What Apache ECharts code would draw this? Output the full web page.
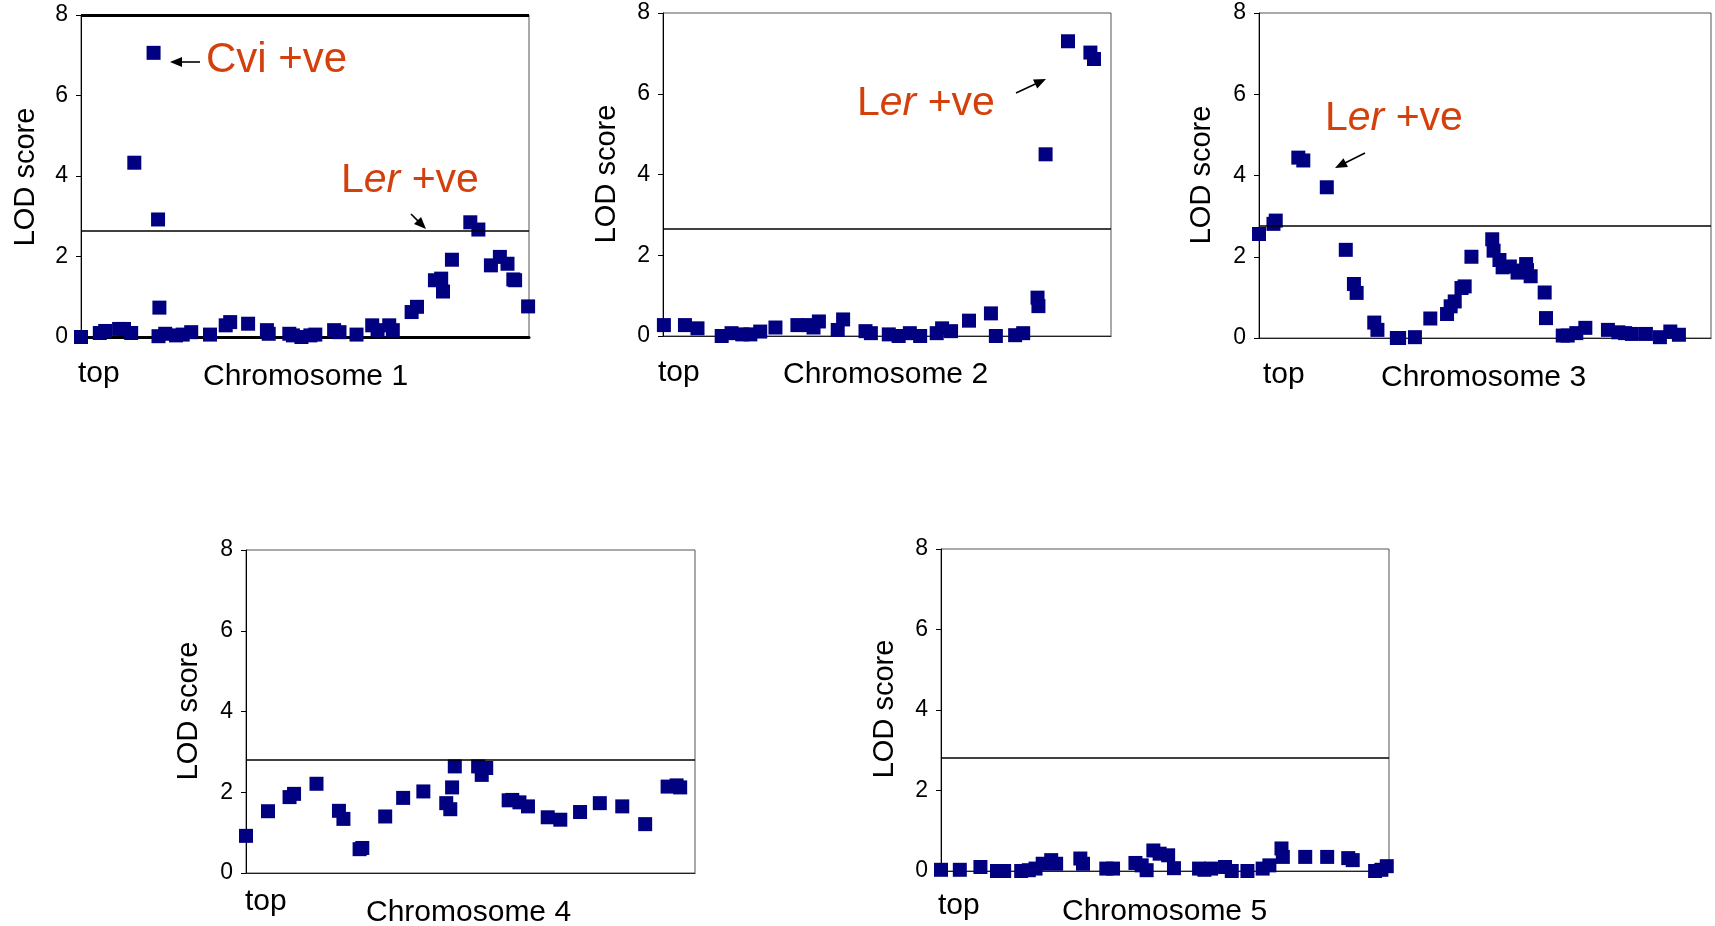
<!DOCTYPE html>
<html>
<head>
<meta charset="utf-8">
<script src="https://cdn.jsdelivr.net/npm/echarts@6/dist/echarts.min.js"></script>
<style>
html,body{margin:0;padding:0;background:#fff;}
#chart{width:1715px;height:926px;}
</style>
</head>
<body>
<div id="chart"></div>
<script>
// ---- data ----
const chromosomeNames = ['Chromosome 1', 'Chromosome 2', 'Chromosome 3', 'Chromosome 4', 'Chromosome 5'];
const yTicks = [0, 2, 4, 6, 8];
const thresholds = [2.63, 2.65, 2.76, 2.8, 2.81];

const chr1Pos = [0, 4.2, 5.4, 8.5, 9.6, 11.2, 11.9, 16.2, 17.2, 17.5, 17.3, 18.8, 21.2, 22.7, 24.6, 28.8, 32.3, 33.3, 37.3, 41.5, 41.9, 46.5, 47.3, 49.2, 51.2, 52.3, 56.5, 57.7, 61.5, 65, 66.2, 68.8, 69.6, 73.8, 75, 79, 80.4, 80.8, 82.8, 86.9, 88.7, 91.5, 93.5, 95.2, 96.5, 96.9, 99.8];
const chr1Lod = [0, 0.1, 0.15, 0.2, 0.2, 0.1, 4.33, 7.06, 2.92, 0.73, 0.02, 0.08, 0.04, 0.06, 0.12, 0.06, 0.29, 0.37, 0.33, 0.17, 0.08, 0.08, 0.04, 0, 0.04, 0.06, 0.17, 0.12, 0.06, 0.29, 0.17, 0.29, 0.17, 0.62, 0.75, 1.41, 1.45, 1.13, 1.92, 2.85, 2.67, 1.78, 1.99, 1.82, 1.43, 1.41, 0.76];

const chr2Pos = [0.2, 4.9, 7.7, 13.1, 15.3, 17.7, 19.5, 21.7, 25.1, 30, 32.4, 33.6, 34.8, 39, 40.2, 45.2, 46.4, 50.4, 52.6, 55.1, 57.4, 61.1, 62.3, 64.3, 68.3, 73.2, 74.3, 78.6, 80.4, 83.6, 83.8, 85.4, 90.4, 95.4, 96.2];
const chr2Lod = [0.27, 0.27, 0.19, 0, 0.07, 0.04, 0.04, 0.11, 0.21, 0.27, 0.27, 0.21, 0.36, 0.15, 0.41, 0.12, 0.07, 0.04, 0, 0.07, 0, 0.07, 0.19, 0.12, 0.38, 0.56, 0, 0.02, 0.07, 0.95, 0.74, 4.5, 7.3, 7.02, 6.86];

const chr3Pos = [0, 3.2, 3.7, 8.7, 9.8, 15, 19.2, 21, 21.6, 25.5, 26.2, 30.5, 31, 34.5, 37.9, 41.6, 42.4, 43.3, 44.8, 45.5, 47, 51.6, 51.9, 53.2, 53.9, 55.5, 57.2, 58.3, 59.1, 59.3, 60.1, 63.2, 63.5, 67.2, 68.3, 70.2, 72.2, 77.2, 79.5, 81, 82.5, 85.6, 88.7, 91, 92.9];
const chr3Lod = [2.56, 2.81, 2.89, 4.44, 4.37, 3.71, 2.17, 1.33, 1.11, 0.38, 0.2, 0, 0, 0.02, 0.48, 0.59, 0.78, 0.9, 1.23, 1.27, 2.0, 2.43, 2.15, 1.92, 1.74, 1.76, 1.61, 1.66, 1.82, 1.67, 1.52, 1.12, 0.49, 0.06, 0.06, 0.12, 0.25, 0.2, 0.14, 0.12, 0.1, 0.1, 0.02, 0.16, 0.08];

const chr4Pos = [0, 4.9, 9.7, 10.7, 15.7, 20.7, 21.7, 25.3, 25.9, 31, 35, 39.5, 44.6, 45.5, 45.9, 46.5, 51.7, 52.5, 53.5, 58.5, 59.3, 60.9, 62.8, 67.2, 70, 74.4, 78.8, 83.8, 88.9, 93.9, 95.9, 96.7];
const chr4Lod = [0.92, 1.53, 1.88, 1.96, 2.21, 1.54, 1.34, 0.59, 0.62, 1.4, 1.86, 2.02, 1.73, 1.58, 2.12, 2.64, 2.64, 2.43, 2.6, 1.8, 1.81, 1.75, 1.65, 1.38, 1.32, 1.51, 1.73, 1.65, 1.21, 2.14, 2.17, 2.12];

const chr5Pos = [0, 4.2, 8.8, 12.5, 14.1, 17.9, 19.6, 21.1, 22.7, 24.6, 25.7, 31.1, 31.7, 36.9, 38.4, 43.4, 44.8, 45.9, 47.4, 48.8, 50.7, 52, 57.6, 58.8, 60.3, 63.4, 64.9, 68.4, 71.8, 73.3, 76, 76.3, 81.3, 86.2, 90.9, 91.9, 96.9, 98.3, 99.5];
const chr5Lod = [0.03, 0.03, 0.1, 0, 0, 0, 0.02, 0.06, 0.18, 0.27, 0.18, 0.31, 0.18, 0.06, 0.06, 0.2, 0.14, 0.02, 0.51, 0.43, 0.39, 0.07, 0.06, 0.03, 0.06, 0.1, 0, 0, 0.06, 0.14, 0.56, 0.35, 0.35, 0.35, 0.32, 0.27, 0, 0.03, 0.12];

const positions = [chr1Pos, chr2Pos, chr3Pos, chr4Pos, chr5Pos];
const lods = [chr1Lod, chr2Lod, chr3Lod, chr4Lod, chr5Lod];

// ---- layout / style ----
const FONT = "'Liberation Sans', Arial, Helvetica, sans-serif";
const RED = '#D4400C';
const NAVY = '#000080';
const grids = [
  {left: 81, top: 15, width: 448, height: 322},
  {left: 663, top: 13, width: 448, height: 323},
  {left: 1259, top: 13, width: 452, height: 325},
  {left: 246, top: 550, width: 449, height: 323},
  {left: 941, top: 549, width: 448, height: 322}
];
const lodLabelPos = [[26, 177], [607, 174], [1202, 175], [189, 711], [885, 709]];
const topLabelPos = [[78, 374], [658, 373], [1263, 375], [245, 902], [938, 906]];
const chrLabelPos = [[203, 377], [783, 375], [1381, 378], [366, 913], [1062, 912]];

const option = {
  animation: false,
  backgroundColor: '#fff',
  grid: grids.map(g => Object.assign({show: true, borderColor: '#555', borderWidth: 1, backgroundColor: 'transparent'}, g)),
  xAxis: grids.map((g, i) => ({
    type: 'value', gridIndex: i, min: 0, max: 100,
    axisLine: {show: true, onZero: true, lineStyle: {color: i === 0 ? '#000' : '#222', width: i === 0 ? 3 : 1.2}},
    axisTick: {show: false}, axisLabel: {show: false}, splitLine: {show: false}
  })),
  yAxis: grids.map((g, i) => ({
    type: 'value', gridIndex: i, min: yTicks[0], max: yTicks[yTicks.length - 1], interval: 2,
    axisLine: {show: true, lineStyle: {color: '#000', width: 1}},
    axisTick: {show: true, length: 5, lineStyle: {color: '#000'}},
    axisLabel: {color: '#000', fontSize: 23, fontFamily: FONT, margin: 13},
    splitLine: {show: false}
  })),
  series: positions.map((pos, i) => {
    const mlData = [{yAxis: thresholds[i], lineStyle: {color: '#000', width: 1.6, type: 'solid'}}];
    if (i === 0) mlData.push({yAxis: 8, lineStyle: {color: '#000', width: 3, type: 'solid'}});
    return {
      type: 'scatter', xAxisIndex: i, yAxisIndex: i, clip: false,
      symbol: 'rect', symbolSize: 14,
      itemStyle: {color: NAVY, opacity: 1},
      data: pos.map((x, k) => [x, lods[i][k]]),
      markLine: {silent: true, symbol: 'none', label: {show: false}, data: mlData},
      z: 3
    };
  }),
  graphic: []
};

function txt(x, y, text, size, opts) {
  return {
    type: 'text', x: x, y: y, silent: true,
    style: Object.assign({text: text, fill: '#000', font: size + 'px ' + FONT, textAlign: 'left', textVerticalAlign: 'middle'}, opts || {})
  };
}
function arrow(x1, y1, x2, y2) {
  const dx = x2 - x1, dy = y2 - y1, L = Math.sqrt(dx * dx + dy * dy);
  const ux = dx / L, uy = dy / L, hl = 12, hw = 5;
  const bx = x2 - ux * hl, by = y2 - uy * hl;
  return [
    {type: 'line', silent: true, shape: {x1: x1, y1: y1, x2: bx + ux * 2, y2: by + uy * 2}, style: {stroke: '#000', lineWidth: 1.6}},
    {type: 'polygon', silent: true, shape: {points: [[x2, y2], [bx - uy * hw, by + ux * hw], [bx + uy * hw, by - ux * hw]]}, style: {fill: '#000'}}
  ];
}
function lerLabel(x, y, size) {
  return {
    type: 'text', x: x, y: y, silent: true,
    style: {
      text: '{n|L}{i|er}{n| +ve}', textAlign: 'left', textVerticalAlign: 'middle',
      rich: {
        n: {fill: RED, fontSize: size, fontFamily: FONT},
        i: {fill: RED, fontSize: size, fontFamily: FONT, fontStyle: 'italic'}
      }
    }
  };
}

const g = option.graphic;
for (let i = 0; i < 5; i++) {
  const lp = lodLabelPos[i];
  g.push({type: 'text', x: lp[0], y: lp[1], rotation: Math.PI / 2, silent: true,
    style: {text: 'LOD score', fill: '#000', font: '29px ' + FONT, textAlign: 'center', textVerticalAlign: 'middle'}});
  g.push(txt(topLabelPos[i][0], topLabelPos[i][1], 'top', 30));
  g.push(txt(chrLabelPos[i][0], chrLabelPos[i][1], chromosomeNames[i], 30));
}
// annotations
g.push(txt(206, 60, 'Cvi +ve', 42, {fill: RED}));
g.push(...arrow(200, 62, 170, 62));
g.push(lerLabel(341, 181, 41));
g.push(...arrow(411, 214, 426, 229));
g.push(lerLabel(857, 104, 41));
g.push(...arrow(1016, 93, 1046, 79));
g.push(lerLabel(1325, 119, 41));
g.push(...arrow(1365, 153, 1335, 168));

const chart = echarts.init(document.getElementById('chart'), null, {renderer: 'canvas'});
chart.setOption(option);
</script>
</body>
</html>
